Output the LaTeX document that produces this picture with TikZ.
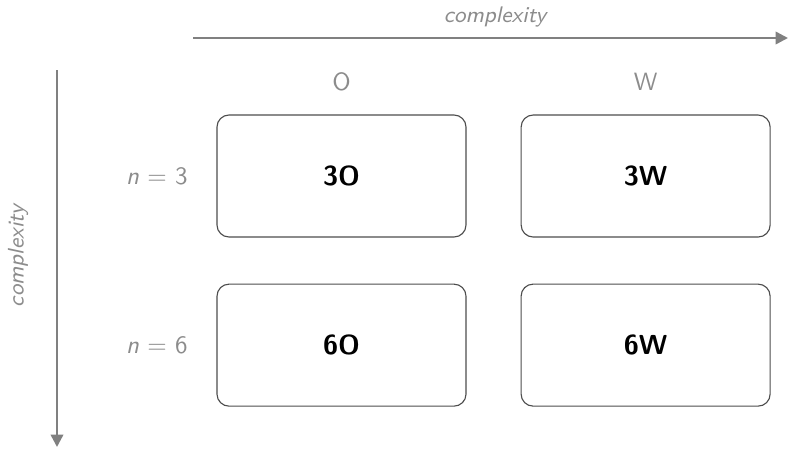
\documentclass[tikz,border=0pt]{standalone}
\usepackage{tikz}
\usetikzlibrary{arrows.meta,positioning}
\definecolor{axisgray}{HTML}{808080}
\definecolor{labelgray}{HTML}{8C8C8C}
\definecolor{boxline}{HTML}{4D4D4D}

\begin{document}
\begin{tikzpicture}[x=0.4pt,y=-0.4pt, node distance=18.4pt and 21.6pt, every node/.style={font=\sffamily,align=center}]
\useasboundingbox (0,0) rectangle (788,449);
\node[draw=boxline,line width=0.45pt,rounded corners=4.8pt,minimum width=99.6pt,minimum height=48.8pt,font=\sffamily\bfseries\fontsize{11}{13}\selectfont] (c3o) at (341.5,176) {3O};
\node[draw=boxline,line width=0.45pt,rounded corners=4.8pt,minimum width=99.6pt,minimum height=48.8pt,font=\sffamily\bfseries\fontsize{11}{13}\selectfont,right=of c3o] (c3w) {3W};
\node[draw=boxline,line width=0.45pt,rounded corners=4.8pt,minimum width=99.6pt,minimum height=48.8pt,font=\sffamily\bfseries\fontsize{11}{13}\selectfont,below=of c3o] (c6o) {6O};
\node[draw=boxline,line width=0.45pt,rounded corners=4.8pt,minimum width=99.6pt,minimum height=48.8pt,font=\sffamily\bfseries\fontsize{11}{13}\selectfont,below=of c3w] (c6w) {6W};
% column and row labels
\node[text=labelgray,font=\sffamily\fontsize{10}{12}\selectfont,above=6pt of c3o] (lo) {O};
\node[text=labelgray,font=\sffamily\fontsize{10}{12}\selectfont,above=6pt of c3w] (lw) {W};
\node[text=labelgray,font=\sffamily\fontsize{10}{12}\selectfont,left=8pt of c3o] (l3) {\textit{n} $=$ 3};
\node[text=labelgray,font=\sffamily\fontsize{10}{12}\selectfont,left=8pt of c6o] (l6) {\textit{n} $=$ 6};
% axes
\coordinate (hs) at (193,38);
\coordinate (he) at (788,38);
\coordinate (vs) at (57,70);
\coordinate (ve) at (57,447);
\draw[-{Triangle[length=5pt,width=5pt]},axisgray,line width=1pt] (hs)--(he);
\draw[-{Triangle[length=5pt,width=5pt]},axisgray,line width=1pt] (vs)--(ve);
\node[text=labelgray,font=\sffamily\itshape\fontsize{9}{11}\selectfont] (hl) at (495,17) {complexity};
\node[text=labelgray,font=\sffamily\itshape\fontsize{9}{11}\selectfont,rotate=90] (vl) at (18,256) {complexity};
\end{tikzpicture}
\end{document}
